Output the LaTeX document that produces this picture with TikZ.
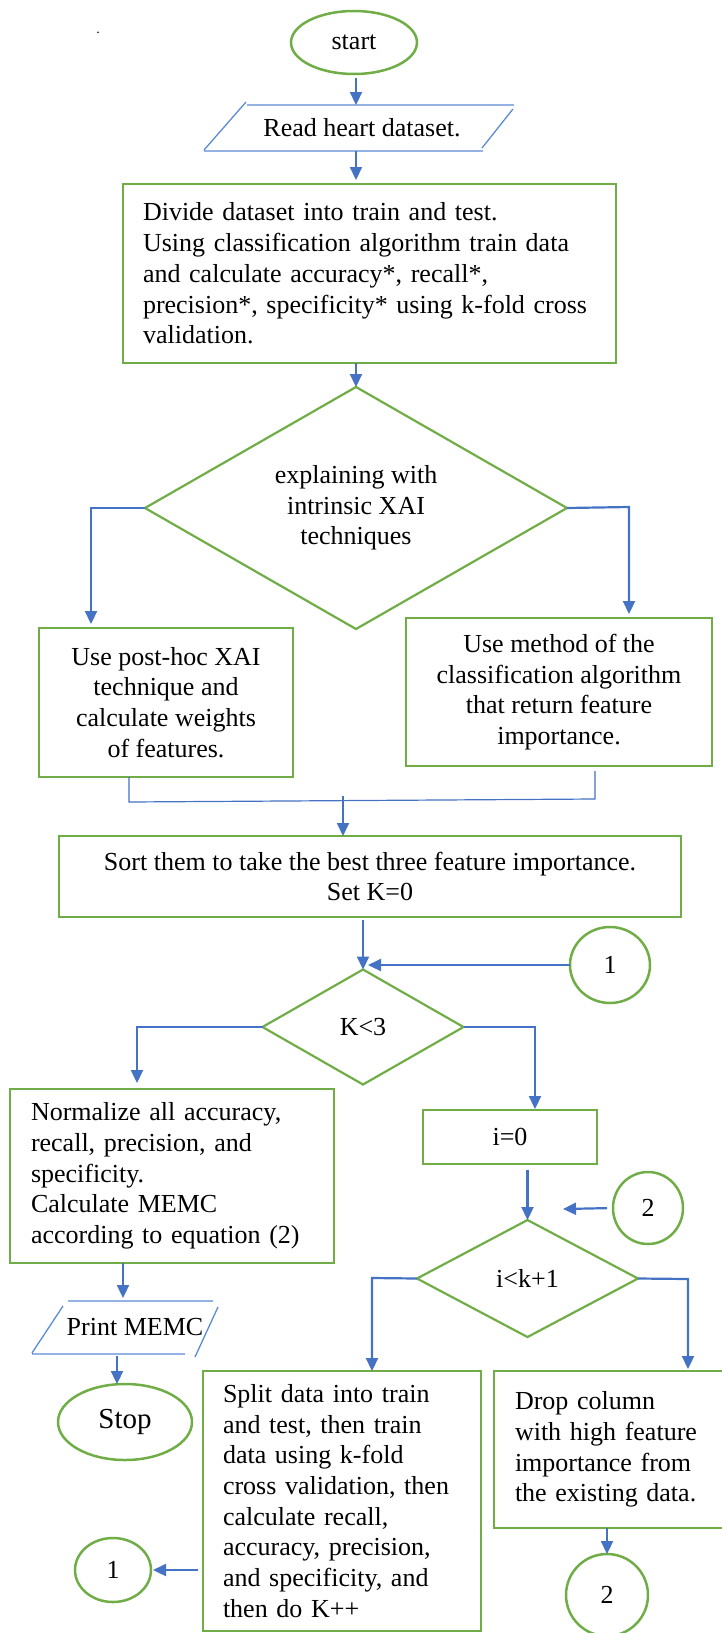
\documentclass[tikz,border=0pt]{standalone}
\usepackage{fontspec}
\setmainfont{Liberation Serif}
\usetikzlibrary{shapes.geometric,arrows.meta,calc}
\definecolor{grn}{HTML}{70AD47}
\definecolor{blu}{HTML}{4472C4}
\definecolor{lblu}{HTML}{5B8BD6}
\begin{document}
\begin{tikzpicture}[x=1pt,y=-1pt,
  every node/.style={font=\fontsize{26}{30.7}\selectfont, inner sep=0pt, outer sep=0pt},
  box/.style={draw=grn, line width=2.5pt, rectangle},
  term/.style={draw=grn, line width=2.5pt, ellipse},
  dec/.style={draw=grn, line width=2.2pt, diamond, aspect=1.75},
  io/.style={draw=none, rectangle},
  iolines/.style={draw=lblu, line width=1.3pt},
  arr/.style={draw=blu, line width=2.2pt, -{Triangle[length=13pt,width=12pt]}},
  thinline/.style={draw=blu, line width=1.2pt},
]
\useasboundingbox (0,0) rectangle (722,1633);

% dot
\node[font=\fontsize{14}{16}\selectfont] (dot) at (98,33) {.};

% start
\node[term, minimum width=126pt, minimum height=63pt] (start) at (354,42.5) {start};

% read dataset
\node[io, minimum width=260pt, minimum height=46pt] (read) at (362,128) {Read heart dataset.};
\draw[iolines] (247,105) -- (514,105) (513,109) -- (482,148) (483,151) -- (204,151) (204,150) -- (246,102);

% divide box
\node[box, text width=453pt, inner xsep=20pt, minimum height=179pt, align=left] (box1) at (369.5,273.5)
 {Divide dataset into train and test.\\Using classification algorithm train data\\and calculate accuracy*, recall*,\\\mbox{precision*, specificity* using k-fold cross}\\validation.};

% diamond 1
\node[dec, minimum width=422pt, minimum height=242pt, align=center] (dia1) at (356,508)
 {explaining with\\intrinsic XAI\\techniques};

\node[box, minimum width=254pt, minimum height=149pt, align=center] (postH) at (166,702.5)
 {Use post-hoc XAI\\technique and\\calculate weights\\of features.};
\node[box, minimum width=306pt, minimum height=148pt, align=center] (method) at (559,692)
 {Use method of the\\classification algorithm\\that return feature\\importance.};

\node[box, minimum width=622pt, minimum height=81pt, align=center] (sort) at (370,876.5)
 {Sort them to take the best three feature importance.\\Set K=0};

\node[dec, minimum width=201pt, minimum height=115pt] (diaK) at (363,1027) {K<3};
\node[term, minimum width=80pt, minimum height=76pt] (c1a) at (610,965) {1};

\node[box, text width=282pt, inner xsep=21pt, minimum height=174pt, align=left] (norm) at (172,1176)
 {Normalize all accuracy,\\recall, precision, and\\specificity.\\Calculate MEMC\\according to equation (2)};

\node[box, minimum width=174pt, minimum height=54pt] (i0) at (510,1137) {i=0};

\node[dec, minimum width=221pt, minimum height=117pt] (dia2) at (527.5,1278.5) {i<k+1};
\node[term, minimum width=70pt, minimum height=72pt] (c2a) at (648,1208) {2};

\node[box, text width=238pt, inner xsep=20pt, minimum height=260pt, align=left] (split) at (342,1501)
 {Split data into train\\and test, then train\\data using k-fold\\cross validation, then\\calculate recall,\\accuracy, precision,\\and specificity, and\\then do K++};

\node[box, text width=190pt, inner xsep=21pt, minimum height=157pt, align=left] (drop) at (610,1449.5)
 {Drop column\\with high feature\\importance from\\the existing data.};

\node[term, minimum width=82pt, minimum height=82pt] (c2b) at (607,1595) {2};
\node[term, minimum width=76pt, minimum height=64pt] (c1b) at (113,1570) {1};

% print MEMC
\node[io, minimum width=140pt, minimum height=53pt] (print) at (135,1327.5) {Print MEMC};
\draw[iolines] (68,1301) -- (213,1301) (218,1307) -- (195,1357) (185,1354) -- (32,1354) (32,1353) -- (63,1306);

\node[term, minimum width=134pt, minimum height=76pt, font=\fontsize{29}{33}\selectfont] (stop) at (125,1422) {Stop};

% connectors
\coordinate (aX) at (356,0);
\draw[arr] ([yshift=-4pt]start.south -| aX) -- (read.north -| aX);
\draw[arr] (read.south -| aX) -- ([yshift=4pt]box1.north -| aX);
\draw[arr] (box1.south -| dia1.north) -- (dia1.north);

\coordinate (bL) at (91,508);
\draw[arr, shorten >=4pt] (dia1.west) -- (bL) -- (bL |- postH.north);
\coordinate (bR) at (629,507);
\draw[arr, shorten >=4pt] (dia1.east) -- (bR) -- (bR |- method.north);

\coordinate (mL) at (129,802);
\coordinate (mR) at (595,799);
\coordinate (mC) at (343,800);
\draw[thinline] (postH.south -| mL) -- (mL) -- (mR) -- ([yshift=-5pt]method.south -| mR);
\draw[arr, line width=1.8pt] ([yshift=4pt]mC) -- (mC |- sort.north);

\draw[arr] ([yshift=-3pt]sort.south -| diaK.north) -- (diaK.north);
\draw[arr] (c1a.west) -- ([xshift=5pt]diaK.north |- c1a.west);

\coordinate (kL) at (137,1027);
\draw[arr, shorten >=6pt] (diaK.west) -- (kL) -- (kL |- norm.north);
\coordinate (kR) at (535,1027);
\draw[arr, shorten >=1pt] (diaK.east) -- (kR) -- (kR |- i0.north);

\draw[arr] ([yshift=-6pt]i0.south -| dia2.north) -- (dia2.north);
\coordinate (c2end) at (563,1209);
\draw[arr, shorten <=6pt] (c2a.west) -- (c2end);

\coordinate (iL) at (372,1278);
\draw[arr] (dia2.west) -- (iL) -- (iL |- split.north);
\coordinate (iR) at (688,1279);
\draw[arr, shorten >=2pt] (dia2.east) -- (iR) -- (iR |- drop.north);

\draw[arr] (drop.south -| c2b.north) -- (c2b.north);
\draw[arr, shorten <=5pt, shorten >=2pt] (split.west |- c1b.east) -- (c1b.east);

\coordinate (pA) at (123,1298);
\draw[arr] (pA |- norm.south) -- (pA);
\coordinate (pB) at (117,1356);
\draw[arr] (pB) -- (pB |- stop.north);
\end{tikzpicture}
\end{document}
